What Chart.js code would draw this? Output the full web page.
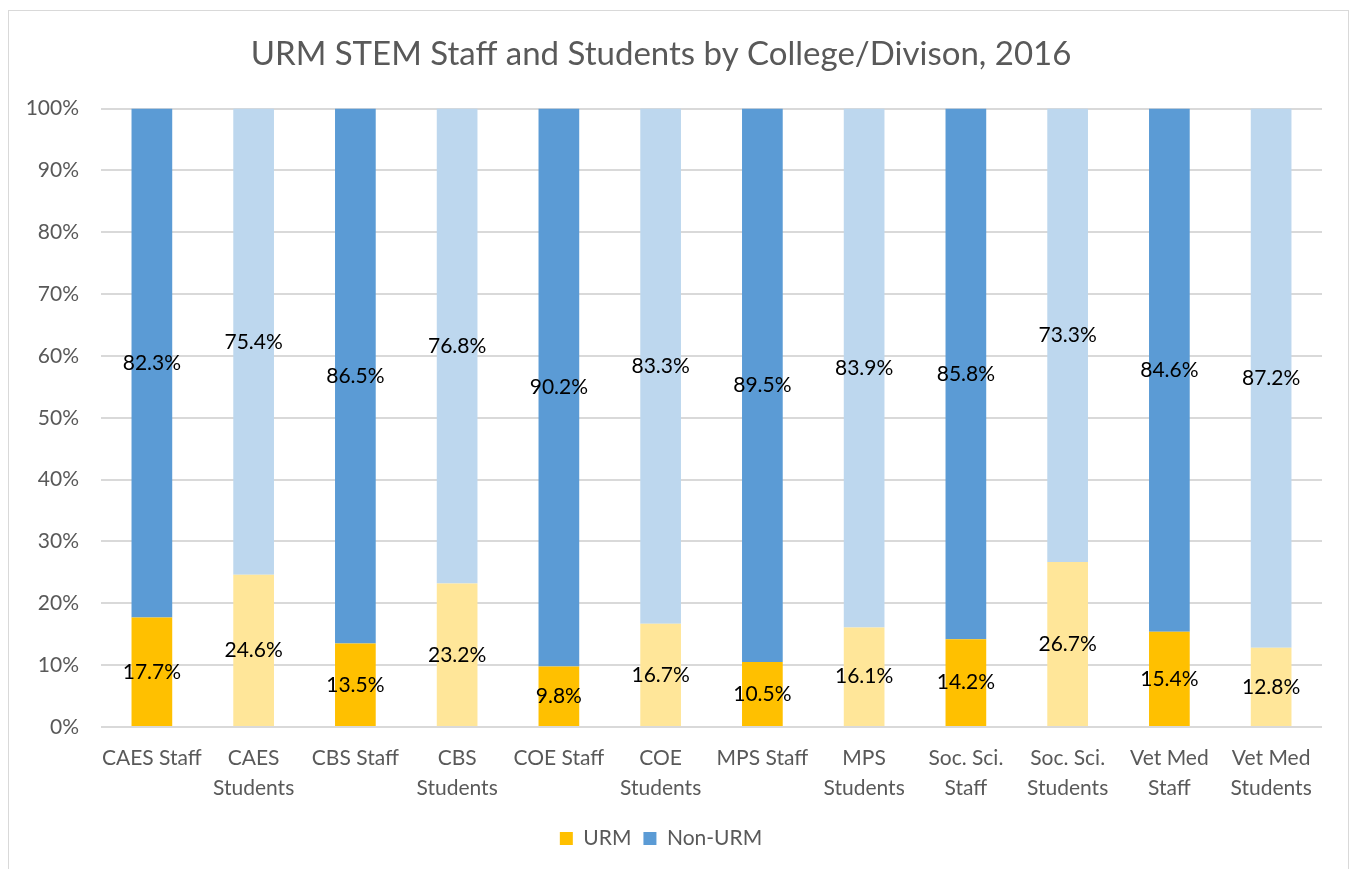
<!DOCTYPE html>
<html>
<head>
<meta charset="utf-8">
<title>URM STEM Staff and Students by College/Divison, 2016</title>
<script src="https://cdn.jsdelivr.net/npm/chart.js@4.4.1/dist/chart.umd.min.js"></script>
<style>
  html, body { margin: 0; padding: 0; background: #fff; overflow: hidden; }
  #frame {
    position: absolute; left: 8px; top: 10px; width: 1341px; height: 900px;
    border: 1px solid #d9d9d9; box-sizing: border-box;
  }
  #chart { position: absolute; left: 0; top: 0; }
</style>
</head>
<body>
<div id="frame"></div>
<canvas id="chart" width="1353" height="869"></canvas>
<script>
const categories = [
    'CAES Staff', ['CAES', 'Students'], 'CBS Staff', ['CBS', 'Students'],
    'COE Staff', ['COE', 'Students'], 'MPS Staff', ['MPS', 'Students'],
    ['Soc. Sci.', 'Staff'], ['Soc. Sci.', 'Students'], ['Vet Med', 'Staff'], ['Vet Med', 'Students']
];
const urmValues = [17.7, 24.6, 13.5, 23.2, 9.8, 16.7, 10.5, 16.1, 14.2, 26.7, 15.4, 12.8];
const nonUrmValues = [82.3, 75.4, 86.5, 76.8, 90.2, 83.3, 89.5, 83.9, 85.8, 73.3, 84.6, 87.2];
const yTicks = [0, 10, 20, 30, 40, 50, 60, 70, 80, 90, 100];

// staff bars use the full colour, student bars the pale one
const urmColors = categories.map((c, i) => i % 2 === 0 ? '#FFC000' : '#FFE699');
const nonUrmColors = categories.map((c, i) => i % 2 === 0 ? '#5B9BD5' : '#BDD7EE');

const FONT = 'Lato, "Open Sans", sans-serif';

// draws the value in the middle of each bar segment
const segmentLabels = {
    id: 'segmentLabels',
    afterDatasetsDraw(chart) {
        const ctx = chart.ctx;
        ctx.save();
        ctx.font = '21px ' + FONT;
        ctx.fillStyle = '#000';
        ctx.textAlign = 'center';
        ctx.textBaseline = 'middle';
        chart.data.datasets.forEach((ds, di) => {
            chart.getDatasetMeta(di).data.forEach((bar, i) => {
                const mid = (bar.y + bar.base) / 2;
                ctx.fillText(ds.data[i].toFixed(1) + '%', bar.x, mid);
            });
        });
        ctx.restore();
    }
};

new Chart(document.getElementById('chart'), {
    type: 'bar',
    data: {
        labels: categories,
        datasets: [
            { label: 'URM', data: urmValues, backgroundColor: urmColors, legendColor: '#FFC000' },
            { label: 'Non-URM', data: nonUrmValues, backgroundColor: nonUrmColors, legendColor: '#5B9BD5' }
        ]
    },
    options: {
        responsive: false,
        animation: false,
        layout: { padding: { left: 0, right: 31, top: 0, bottom: 10 } },
        datasets: { bar: { categoryPercentage: 1, barPercentage: 0.4 } },
        plugins: {
            title: {
                display: true,
                text: 'URM STEM Staff and Students by College/Divison, 2016',
                color: '#595959',
                font: { family: FONT, size: 33, weight: 'normal' },
                padding: { top: 35, bottom: 34 }
            },
            legend: {
                position: 'bottom',
                labels: {
                    color: '#595959',
                    font: { family: FONT, size: 21 },
                    boxWidth: 13,
                    boxHeight: 13,
                    padding: 12,
                    generateLabels(chart) {
                        return chart.data.datasets.map((ds, i) => ({
                            text: ds.label,
                            fillStyle: ds.legendColor,
                            strokeStyle: ds.legendColor,
                            lineWidth: 0,
                            fontColor: '#595959',
                            datasetIndex: i
                        }));
                    }
                }
            },
            tooltip: { enabled: false }
        },
        scales: {
            x: {
                stacked: true,
                grid: { display: false },
                border: { display: false },
                ticks: {
                    color: '#595959',
                    font: { family: FONT, size: 21, lineHeight: 1.43 },
                    maxRotation: 0,
                    autoSkip: false,
                    padding: 8
                },
                afterFit(scale) { scale.height = 89; }
            },
            y: {
                stacked: true,
                min: 0,
                max: 100,
                grid: { color: '#d9d9d9', lineWidth: 2, drawTicks: false },
                border: { display: false },
                afterBuildTicks(scale) { scale.ticks = yTicks.map(v => ({ value: v })); },
                ticks: {
                    color: '#595959',
                    font: { family: FONT, size: 21 },
                    padding: 22,
                    callback: v => v + '%'
                },
                afterFit(scale) { scale.width = 101; }
            }
        }
    },
    plugins: [segmentLabels]
});
</script>
</body>
</html>
